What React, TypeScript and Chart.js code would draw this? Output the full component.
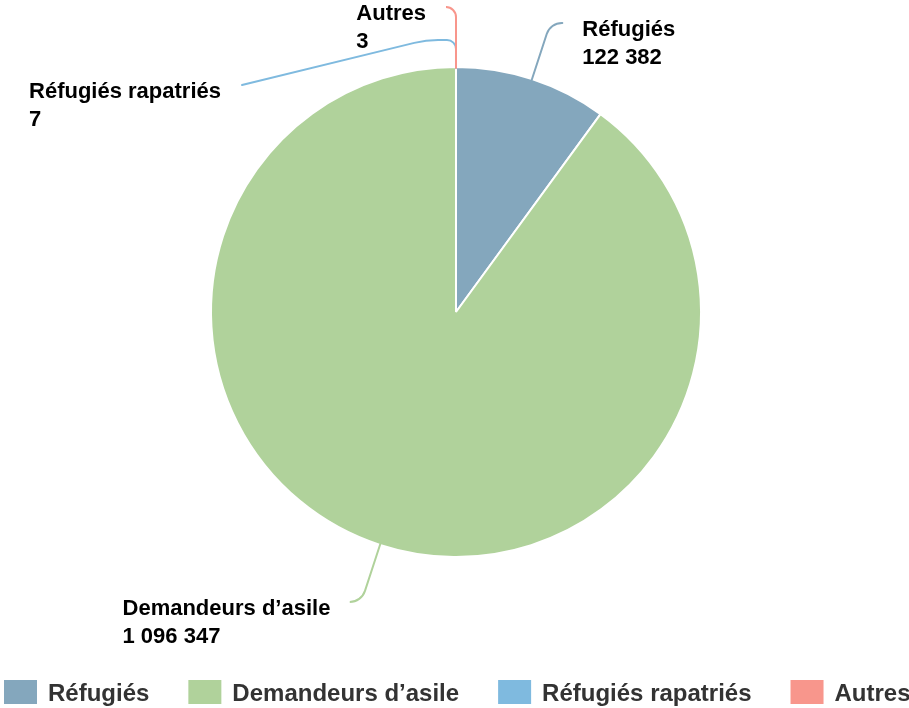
import React, { useEffect, useRef } from "react";
import { Chart, registerables } from "chart.js";

Chart.register(...registerables);

// ---- data ----
const categories = ["Réfugiés", "Demandeurs d’asile", "Réfugiés rapatriés", "Autres"];
const values = [122382, 1096347, 7, 3];
const colors = ["#84a7bd", "#b0d29b", "#7fbadf", "#f8968c"];

// ---- connector / label styling (offsets relative to the elbow of each connector) ----
const connectorLayout = [
  { ext: 59, pts: [[12, 0]], radii: [16], side: 1 },
  { ext: 60, pts: [[-10, 0]], radii: [16], side: -1 },
  { ext: 27, pts: [[-30, 0], [-214, 45]], radii: [9, 100], side: -1 },
  { ext: 60, pts: [[-9, 0]], radii: [10], side: -1 },
];

const LABEL_FONT = "bold 22px 'Liberation Sans', Arial, Helvetica, sans-serif";
const LEGEND_FONT = "bold 24px 'Liberation Sans', Arial, Helvetica, sans-serif";

function fmt(v: number): string {
  return String(v).replace(/\B(?=(\d{3})+(?!\d))/g, " ");
}

const labelPlugin = {
  id: "sliceLabels",
  afterDatasetsDraw(chart: any) {
    const ctx = chart.ctx as CanvasRenderingContext2D;
    const meta = chart.getDatasetMeta(0);
    meta.data.forEach((arc: any, i: number) => {
      const { x, y, startAngle, endAngle, outerRadius } = arc.getProps(
        ["x", "y", "startAngle", "endAngle", "outerRadius"],
        true
      );
      const mid = (startAngle + endAngle) / 2;
      const L = connectorLayout[i];
      const r0 = outerRadius - 1;
      const ax = x + Math.cos(mid) * r0;
      const ay = y + Math.sin(mid) * r0;
      const bx = x + Math.cos(mid) * (outerRadius + L.ext);
      const by = y + Math.sin(mid) * (outerRadius + L.ext);
      const pts: number[][] = [[bx, by], ...L.pts.map(([dx, dy]) => [bx + dx, by + dy])];
      ctx.save();
      ctx.beginPath();
      ctx.moveTo(ax, ay);
      for (let k = 0; k < pts.length - 1; k++) {
        ctx.arcTo(pts[k][0], pts[k][1], pts[k + 1][0], pts[k + 1][1], L.radii[k]);
      }
      const last = pts[pts.length - 1];
      ctx.lineTo(last[0], last[1]);
      ctx.strokeStyle = colors[i];
      ctx.lineWidth = 2;
      ctx.lineCap = "round";
      ctx.stroke();

      ctx.font = LABEL_FONT;
      ctx.fillStyle = "#000";
      ctx.textAlign = "left";
      ctx.textBaseline = "alphabetic";
      const lines = [categories[i], fmt(values[i])];
      const w = Math.max(...lines.map((t) => ctx.measureText(t).width));
      const tx = L.side > 0 ? last[0] + 20 : last[0] - 21 - w;
      ctx.fillText(lines[0], tx, last[1] + 13);
      ctx.fillText(lines[1], tx, last[1] + 41);
      ctx.restore();
    });
  },
};

const legendPlugin = {
  id: "customLegend",
  afterDraw(chart: any) {
    const ctx = chart.ctx as CanvasRenderingContext2D;
    const meta = chart.getDatasetMeta(0);
    const centerX = meta.data.length ? meta.data[0].x : chart.width / 2;
    ctx.save();
    ctx.font = LEGEND_FONT;
    const box = 33;
    const boxH = 24;
    const gapText = 11;
    const gapItem = 39;
    const widths = categories.map((c) => ctx.measureText(c).width);
    const total =
      widths.reduce((s, w) => s + box + gapText + w, 0) + gapItem * (categories.length - 1);
    let cx = Math.max(4, centerX + 1 - total / 2);
    const top = 680;
    categories.forEach((c, i) => {
      ctx.fillStyle = colors[i];
      ctx.fillRect(cx, top, box, boxH);
      ctx.fillStyle = "#333";
      ctx.textAlign = "left";
      ctx.textBaseline = "alphabetic";
      ctx.fillText(c, cx + box + gapText, 701);
      cx += box + gapText + widths[i] + gapItem;
    });
    ctx.restore();
  },
};

export default function App() {
  const ref = useRef<HTMLCanvasElement>(null);
  useEffect(() => {
    if (!ref.current) return;
    const chart = new Chart(ref.current, {
      type: "pie",
      data: {
        labels: categories,
        datasets: [
          {
            data: values,
            backgroundColor: colors,
            borderColor: "#ffffff",
            borderWidth: 2,
            hoverOffset: 0,
          },
        ],
      },
      options: {
        responsive: false,
        animation: false,
        devicePixelRatio: 1,
        layout: { padding: { top: 66, bottom: 150, left: 3, right: 0 } },
        plugins: {
          legend: { display: false },
          tooltip: { enabled: false },
        },
      } as any,
      plugins: [labelPlugin, legendPlugin],
    });
    return () => chart.destroy();
  }, []);
  return (
    <div
      style={{
        position: "absolute",
        left: 0,
        top: 0,
        width: 909,
        height: 708,
        background: "#fff",
      }}
    >
      <canvas ref={ref} width={909} height={708} style={{ display: "block" }} />
    </div>
  );
}
